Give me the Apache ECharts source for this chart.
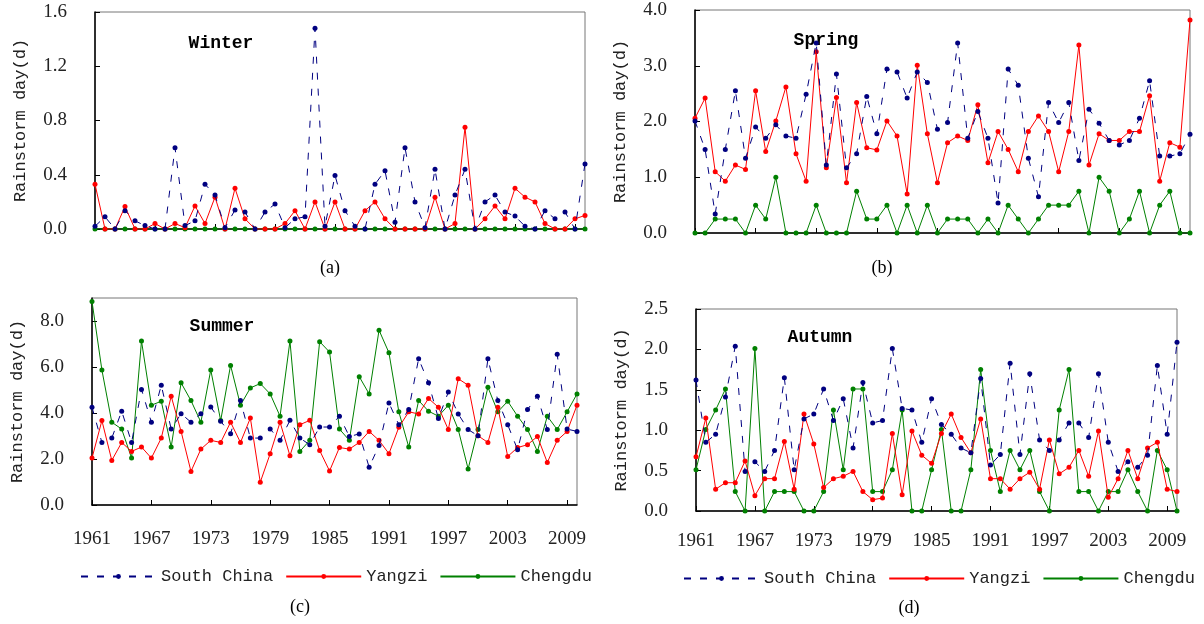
<!DOCTYPE html>
<html>
<head>
<meta charset="utf-8">
<script src="https://cdn.jsdelivr.net/npm/echarts@6/dist/echarts.min.js"></script>
<style>
  html, body { margin: 0; padding: 0; background: #fff; }
  #main { width: 1204px; height: 624px; }
</style>
</head>
<body>
<div id="main"></div>
<script>
var years = [1961,1962,1963,1964,1965,1966,1967,1968,1969,1970,
             1971,1972,1973,1974,1975,1976,1977,1978,1979,1980,
             1981,1982,1983,1984,1985,1986,1987,1988,1989,1990,
             1991,1992,1993,1994,1995,1996,1997,1998,1999,2000,
             2001,2002,2003,2004,2005,2006,2007,2008,2009,2010];

var seriesNames = ['South China', 'Yangzi', 'Chengdu'];
var seasons = ['Winter', 'Spring', 'Summer', 'Autumn'];

// winter
var winterSouth = [0.02,0.09,0.0,0.135,0.06,0.025,0.0,0.0,0.60,0.025,0.06,0.33,0.25,0.01,0.14,0.125,0.0,0.125,0.185,0.01,
                   0.075,0.09,1.48,0.02,0.395,0.135,0.02,0.0,0.33,0.43,0.05,0.60,0.20,0.01,0.44,0.0,0.25,0.44,0.0,0.20,
                   0.25,0.125,0.095,0.02,0.0,0.135,0.075,0.125,0.0,0.48];
var winterYangzi = [0.33,0,0,0.165,0,0,0.04,0,0.04,0.01,0.17,0.04,0.235,0,0.30,0.075,0,0,0,0.04,
                    0.135,0,0.20,0,0.20,0,0,0.135,0.20,0.075,0,0,0,0,0.235,0,0.04,0.75,0,0.075,
                    0.17,0.075,0.30,0.235,0.20,0.04,0,0,0.075,0.10];
var winterChengdu = [0,0,0,0,0,0,0,0,0,0,0,0,0,0,0,0,0,0,0,0,
                     0,0,0,0,0,0,0,0,0,0,0,0,0,0,0,0,0,0,0,0,
                     0,0,0,0,0,0,0,0,0,0];
// spring
var springSouth = [2.01,1.50,0.34,1.50,2.55,1.34,1.90,1.70,1.94,1.74,1.70,2.49,3.41,1.22,2.85,1.17,1.42,2.45,1.78,2.94,
                   2.89,2.42,2.89,2.70,1.86,1.98,3.41,1.70,2.18,1.70,0.54,2.94,2.65,1.34,0.65,2.34,1.98,2.34,1.30,2.22,
                   1.97,1.66,1.58,1.66,2.06,2.73,1.38,1.38,1.42,1.77];
var springYangzi = [2.06,2.42,1.10,0.93,1.22,1.14,2.55,1.46,2.01,2.62,1.42,0.93,3.25,1.17,2.43,0.90,2.34,1.53,1.49,2.01,
                    1.74,0.70,3.01,1.78,0.90,1.62,1.74,1.66,2.30,1.26,1.82,1.50,1.10,1.82,2.10,1.82,1.10,1.82,3.37,1.22,
                    1.78,1.66,1.66,1.82,1.82,2.46,0.93,1.62,1.54,3.82];
var springChengdu = [0,0,0.25,0.25,0.25,0,0.5,0.25,1.0,0,0,0,0.5,0,0,0,0.75,0.25,0.25,0.5,
                     0,0.5,0,0.5,0,0.25,0.25,0.25,0,0.25,0,0.5,0.25,0,0.25,0.5,0.5,0.5,0.75,0,
                     1.0,0.75,0,0.25,0.75,0,0.5,0.75,0,0];
// summer
var summerSouth = [4.25,2.72,2.91,4.08,2.72,5.02,3.60,5.21,3.30,3.97,3.60,3.97,4.26,3.64,3.10,4.54,2.91,2.91,3.30,2.81,
                   3.68,2.91,2.62,3.39,3.39,3.86,2.98,3.09,1.64,2.59,4.44,3.49,4.15,6.36,5.31,3.76,4.91,3.96,3.28,3.01,
                   6.36,4.54,3.49,2.40,4.15,4.73,3.28,6.55,3.30,3.20];
var summerYangzi = [2.04,3.67,1.94,2.72,2.33,2.52,2.04,2.91,4.73,3.20,1.46,2.43,2.81,2.72,3.60,2.72,3.78,0.99,2.23,3.60,
                    2.14,3.49,3.68,2.37,1.48,2.50,2.43,2.72,3.20,2.81,2.23,3.38,4.05,3.96,4.63,4.25,3.28,5.49,5.21,3.01,
                    2.72,4.25,2.11,2.50,2.62,2.98,1.85,2.81,3.20,4.34];
var summerChengdu = [8.85,5.87,3.60,3.30,2.04,7.13,4.34,4.51,2.52,5.31,4.54,3.60,5.87,3.67,6.07,4.34,5.09,5.28,4.83,3.86,
                     7.13,2.33,2.81,7.10,6.65,3.30,2.81,5.58,4.83,7.60,6.62,4.05,2.52,4.54,4.08,3.86,4.34,3.28,1.57,3.28,
                     5.12,4.05,4.51,3.86,3.28,2.33,3.86,3.28,4.05,4.83];
// autumn
var autumnSouth = [1.62,0.85,0.95,1.41,2.04,0.49,0.61,0.49,0.75,1.65,0.51,1.14,1.20,1.51,1.12,1.39,0.78,1.59,1.09,1.12,
                   2.01,1.27,1.25,0.85,1.39,1.07,0.95,0.78,0.72,1.64,0.57,0.70,1.83,0.70,1.70,0.88,0.75,0.88,1.09,1.09,
                   0.91,1.70,0.85,0.49,0.61,0.54,0.69,1.80,0.95,2.09];
var autumnYangzi = [0.67,1.15,0.27,0.35,0.35,0.62,0.19,0.40,0.40,0.86,0.27,1.20,0.83,0.29,0.40,0.43,0.49,0.24,0.14,0.16,
                    0.96,0.20,0.99,0.69,0.59,0.96,1.20,0.91,0.72,1.14,0.40,0.40,0.27,0.40,0.48,0.27,0.88,0.46,0.54,0.75,
                    0.43,0.99,0.17,0.40,0.75,0.40,0.78,0.85,0.27,0.24];
var autumnChengdu = [0.51,1.01,1.25,1.51,0.24,0,2.01,0,0.24,0.24,0.24,0,0,0.24,1.25,0.51,1.51,1.51,0.24,0.24,
                     0.51,1.25,0,0,0.51,1.01,0,0,0.51,1.75,0.75,0.24,0.75,0.51,0.75,0.24,0,1.25,1.75,0.24,
                     0.24,0,0.24,0.24,0.51,0.24,0,0.75,0.51,0];

var yMax = [1.6, 4.0, 9, 2.5];
var yInterval = [0.4, 1.0, 2, 0.5];

var panelData = [
    [winterSouth, winterYangzi, winterChengdu],
    [springSouth, springYangzi, springChengdu],
    [summerSouth, summerYangzi, summerChengdu],
    [autumnSouth, autumnYangzi, autumnChengdu]
];

var colors = ['#000080', '#ff0000', '#008000'];
var monoFont = '"Liberation Mono", "DejaVu Sans Mono", monospace';
var serifFont = '"Liberation Serif", "DejaVu Serif", serif';
var textColor = '#222';

// layout of the four plot boxes
var grids = [
    {left: 95, top: 12, width: 490, height: 217},
    {left: 695, top: 10, width: 495, height: 223},
    {left: 92, top: 298, width: 485, height: 207},
    {left: 696, top: 309, width: 481, height: 202}
];
var titlePos = [[221, 43], [826, 40], [222, 326], [820, 337]];
var captionPos = [[330, 268, '(a)'], [882, 268, '(b)'], [300, 607, '(c)'], [909, 608, '(d)']];

var chartDom = document.getElementById('main');
var myChart = echarts.init(chartDom);

var xAxes = [], yAxes = [], series = [], graphics = [];

grids.forEach(function (g, k) {
    g.show = true;
    g.borderColor = '#777';
    g.borderWidth = 1;
    g.containLabel = false;

    xAxes.push({
        type: 'category',
        gridIndex: k,
        data: years,
        boundaryGap: false,
        axisLine: {lineStyle: {color: '#000', width: 1.5}},
        axisTick: {inside: true, interval: 5, length: 5, lineStyle: {color: '#000'}},
        axisLabel: {
            show: k >= 2,
            interval: 5,
            margin: k == 2 ? 25 : 21,
            fontFamily: serifFont,
            fontSize: 19,
            color: textColor
        },
        splitLine: {show: false}
    });

    yAxes.push({
        type: 'value',
        gridIndex: k,
        min: 0,
        max: yMax[k],
        interval: yInterval[k],
        name: 'Rainstorm day(d)',
        nameLocation: 'middle',
        nameGap: 66,
        nameTextStyle: {fontFamily: monoFont, fontSize: 17, color: textColor},
        axisLine: {show: true, lineStyle: {color: '#000', width: 1.5}},
        axisTick: {show: true, inside: true, length: 5, lineStyle: {color: '#000'}},
        axisLabel: {
            margin: 28,
            showMaxLabel: k != 2,
            fontFamily: serifFont,
            fontSize: 19,
            color: textColor,
            formatter: function (v) { return v.toFixed(1); }
        },
        splitLine: {show: false}
    });

    panelData[k].forEach(function (vals, s) {
        series.push({
            name: seriesNames[s],
            type: 'line',
            xAxisIndex: k,
            yAxisIndex: k,
            data: vals,
            symbol: 'circle',
            symbolSize: 5,
            z: 3 - s,
            itemStyle: {color: colors[s]},
            lineStyle: {
                color: colors[s],
                width: 1,
                type: s == 0 ? [7, 9] : 'solid'
            }
        });
    });

    graphics.push({
        type: 'text',
        x: titlePos[k][0],
        y: titlePos[k][1],
        style: {
            text: seasons[k],
            font: 'bold 18px ' + monoFont,
            fill: '#000',
            align: 'center',
            verticalAlign: 'middle'
        }
    });
    graphics.push({
        type: 'text',
        x: captionPos[k][0],
        y: captionPos[k][1],
        style: {
            text: captionPos[k][2],
            font: '18px ' + serifFont,
            fill: '#000',
            align: 'center',
            verticalAlign: 'middle'
        }
    });
});

var legendBase = {
    data: seriesNames,
    orient: 'horizontal',
    itemWidth: 75,
    itemHeight: 6,
    itemGap: 12,
    textStyle: {fontFamily: monoFont, fontSize: 17, color: textColor}
};

var option = {
    animation: false,
    backgroundColor: '#fff',
    color: colors,
    grid: grids,
    xAxis: xAxes,
    yAxis: yAxes,
    legend: [
        Object.assign({left: 75, top: 563}, legendBase),
        Object.assign({left: 678, top: 565}, legendBase)
    ],
    graphic: {elements: graphics},
    series: series
};

option && myChart.setOption(option);
</script>
</body>
</html>
